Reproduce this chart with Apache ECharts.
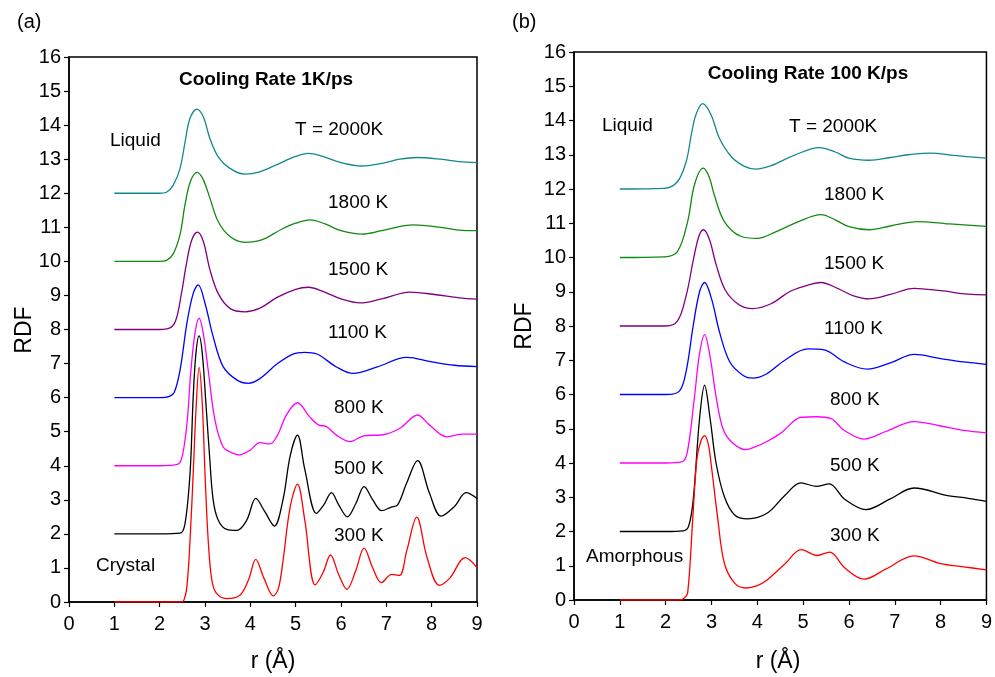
<!DOCTYPE html>
<html>
<head>
<meta charset="utf-8">
<script src="https://cdn.jsdelivr.net/npm/echarts@6/dist/echarts.min.js"></script>
<style>html,body{margin:0;padding:0;background:#fff;}#c{width:995px;height:677px;}</style>
</head>
<body>
<div id="c"></div>
<script>
// ---------- axis ticks ----------
const xTicks = [0,1,2,3,4,5,6,7,8,9];
const yTicks = [0,1,2,3,4,5,6,7,8,9,10,11,12,13,14,15,16];

// ---------- panel (a): cooling rate 1 K/ps, [r, RDF] ----------
const a2000 = [[1,12],[2.0,12],[2.15,12.03],[2.3,12.24],[2.45,12.73],[2.56,13.5],[2.67,14.2],[2.82,14.47],[2.96,14.25],[3.11,13.6],[3.29,13.07],[3.55,12.73],[3.88,12.56],[4.21,12.63],[4.6,12.85],[5.0,13.08],[5.28,13.17],[5.6,13.08],[6.0,12.9],[6.46,12.8],[6.9,12.88],[7.3,13.0],[7.67,13.05],[8.2,13.0],[8.6,12.93],[9,12.9]];
const a1800 = [[1,10],[2.0,10],[2.15,10.03],[2.3,10.22],[2.45,10.79],[2.56,11.67],[2.68,12.35],[2.83,12.61],[2.96,12.4],[3.11,11.85],[3.29,11.17],[3.55,10.73],[3.88,10.56],[4.25,10.63],[4.7,10.95],[5.0,11.12],[5.32,11.22],[5.65,11.1],[6.0,10.9],[6.46,10.8],[6.9,10.9],[7.6,11.07],[8.2,11.0],[8.6,10.92],[9,10.9]];
const a1500 = [[1,8],[2.0,8],[2.2,8.03],[2.35,8.25],[2.48,9.05],[2.58,9.85],[2.7,10.6],[2.83,10.86],[2.96,10.6],[3.11,9.75],[3.29,9.06],[3.55,8.62],[3.88,8.52],[4.2,8.62],[4.6,8.95],[5.0,9.18],[5.28,9.24],[5.6,9.12],[6.0,8.9],[6.42,8.78],[6.9,8.9],[7.52,9.10],[8.1,9.02],[8.6,8.93],[9,8.89]];
const a1100 = [[1,6],[2.0,6],[2.2,6.03],[2.32,6.15],[2.45,6.81],[2.6,8.18],[2.74,9.06],[2.85,9.31],[3.0,8.77],[3.18,7.79],[3.4,6.91],[3.7,6.52],[3.95,6.42],[4.2,6.55],[4.6,7.0],[4.94,7.28],[5.2,7.33],[5.47,7.28],[5.9,6.9],[6.27,6.71],[6.8,6.9],[7.45,7.18],[8.0,7.05],[8.5,6.95],[9,6.91]];
const a800 = [[1,4],[2.0,4],[2.37,4.03],[2.47,4.15],[2.56,4.76],[2.62,5.5],[2.69,6.81],[2.78,7.9],[2.87,8.33],[2.96,7.9],[3.07,6.81],[3.22,5.34],[3.4,4.55],[3.55,4.41],[3.75,4.32],[3.99,4.45],[4.21,4.68],[4.43,4.64],[4.6,4.9],[4.8,5.5],[5.04,5.85],[5.3,5.45],[5.5,5.2],[5.68,5.15],[5.9,4.9],[6.2,4.71],[6.5,4.88],[6.93,4.91],[7.3,5.1],[7.69,5.49],[7.95,5.2],[8.33,4.85],[8.7,4.93],[9,4.93]];
const a500 = [[1,2],[2.0,2],[2.45,2.02],[2.56,2.31],[2.67,3.78],[2.74,6.03],[2.8,7.3],[2.87,7.81],[2.94,7.3],[3.02,5.83],[3.1,4.3],[3.18,3.0],[3.29,2.41],[3.48,2.13],[3.7,2.1],[3.92,2.4],[4.12,3.04],[4.32,2.65],[4.53,2.23],[4.72,3.0],[4.88,4.3],[5.04,4.9],[5.2,3.9],[5.46,2.6],[5.62,2.85],[5.79,3.21],[5.95,2.85],[6.14,2.5],[6.33,2.9],[6.51,3.39],[6.7,3.0],[6.9,2.68],[7.1,2.78],[7.25,2.85],[7.45,3.5],[7.69,4.15],[7.95,3.2],[8.21,2.52],[8.5,2.8],[8.76,3.21],[9,3.04]];
const a300 = [[1,0],[2.45,0],[2.52,0.02],[2.6,0.45],[2.67,1.82],[2.74,3.78],[2.8,5.6],[2.87,6.89],[2.94,5.83],[3.0,3.78],[3.07,1.82],[3.15,0.65],[3.25,0.26],[3.47,0.1],[3.77,0.2],[3.96,0.65],[4.12,1.25],[4.3,0.7],[4.51,0.18],[4.62,0.4],[4.72,1.2],[4.88,2.8],[5.04,3.46],[5.2,2.41],[5.43,0.5],[5.6,0.85],[5.77,1.38],[5.95,0.8],[6.13,0.37],[6.32,0.9],[6.51,1.58],[6.7,1.0],[6.89,0.57],[7.12,0.81],[7.29,0.78],[7.45,1.5],[7.67,2.49],[7.9,1.3],[8.17,0.49],[8.4,0.7],[8.74,1.3],[9,1.01]];

// ---------- panel (b): cooling rate 100 K/ps, [r, RDF] ----------
const b2000 = [[1,12],[1.97,12.02],[2.26,12.22],[2.45,12.81],[2.56,13.59],[2.66,14.17],[2.81,14.49],[2.99,14.17],[3.17,13.49],[3.43,12.95],[3.72,12.66],[3.97,12.58],[4.3,12.68],[4.8,12.98],[5.35,13.21],[5.7,13.08],[6.0,12.9],[6.44,12.84],[6.9,12.92],[7.3,13.0],[7.78,13.05],[8.3,12.98],[9,12.9]];
const b1800 = [[1,10],[1.97,10.02],[2.26,10.18],[2.48,11.05],[2.63,12.13],[2.82,12.61],[2.95,12.35],[3.06,11.83],[3.28,11.05],[3.64,10.62],[4.0,10.56],[4.4,10.75],[4.9,11.05],[5.39,11.25],[5.7,11.1],[6.0,10.9],[6.44,10.81],[6.9,10.92],[7.49,11.05],[8.2,10.98],[9,10.91]];
const b1500 = [[1,8],[2.0,8.0],[2.26,8.15],[2.45,8.9],[2.6,9.9],[2.72,10.6],[2.82,10.81],[2.95,10.55],[3.1,9.8],[3.3,9.05],[3.6,8.62],[3.9,8.51],[4.3,8.65],[4.7,9.0],[5.0,9.15],[5.39,9.27],[5.75,9.1],[6.1,8.88],[6.44,8.79],[6.9,8.92],[7.42,9.10],[8.0,9.03],[8.6,8.93],[9,8.91]];
const b1100 = [[1,6],[2.0,6.0],[2.3,6.1],[2.45,6.7],[2.6,8.0],[2.74,9.0],[2.85,9.27],[3.0,8.8],[3.18,7.8],[3.4,6.95],[3.7,6.55],[3.9,6.48],[4.2,6.6],[4.6,7.0],[5.1,7.33],[5.46,7.3],[5.9,6.95],[6.4,6.74],[6.9,6.92],[7.42,7.17],[8.0,7.05],[8.5,6.95],[9,6.88]];
const b800 = [[1,4],[2.0,4.0],[2.35,4.03],[2.47,4.3],[2.63,5.94],[2.74,7.2],[2.85,7.75],[2.97,7.1],[3.1,5.94],[3.25,5.0],[3.45,4.6],[3.75,4.39],[3.95,4.47],[4.2,4.62],[4.52,4.88],[4.95,5.33],[5.3,5.35],[5.6,5.3],[5.9,4.95],[6.33,4.70],[6.8,4.92],[7.42,5.21],[8.0,5.08],[8.5,4.95],[9,4.88]];
const b500 = [[1,2],[2.0,2.0],[2.38,2.02],[2.5,2.15],[2.6,2.9],[2.74,5.3],[2.85,6.27],[2.97,5.3],[3.1,4.0],[3.28,3.02],[3.5,2.49],[3.79,2.37],[4.22,2.54],[4.6,3.05],[4.95,3.42],[5.28,3.32],[5.57,3.39],[5.9,2.95],[6.37,2.64],[6.9,2.95],[7.42,3.27],[8.15,3.05],[8.6,2.97],[9,2.88]];
const b300 = [[1,0],[2.3,0],[2.4,0.05],[2.48,0.2],[2.59,2.34],[2.68,4.1],[2.77,4.65],[2.85,4.8],[2.93,4.55],[2.99,4.0],[3.14,2.34],[3.28,1.08],[3.5,0.5],[3.75,0.35],[4.0,0.42],[4.22,0.59],[4.6,1.05],[4.96,1.47],[5.3,1.30],[5.58,1.40],[5.9,0.95],[6.33,0.61],[6.8,0.9],[7.42,1.29],[8.0,1.06],[8.5,0.97],[9,0.88]];

const colors = ['#13888b','#118a11','#800080','#0000ff','#ff00ff','#000000','#ff0000'];
const panelA = [a2000,a1800,a1500,a1100,a800,a500,a300];
const panelB = [b2000,b1800,b1500,b1100,b800,b500,b300];

const FONT = '"Liberation Sans", Arial, Helvetica, sans-serif';

function xAx(gi){
  return {type:'value', gridIndex:gi, min:0, max:9, interval:1,
    axisLine:{show:true, lineStyle:{color:'#000', width:1.5}},
    axisTick:{show:true, inside:false, length:5, lineStyle:{color:'#000', width:1.2}},
    axisLabel:{color:'#000', fontSize:20, fontFamily:FONT, margin:12},
    splitLine:{show:false}};
}
function yAx(gi){
  return {type:'value', gridIndex:gi, min:0, max:16, interval:1,
    axisLine:{show:true, lineStyle:{color:'#000', width:1.5}},
    axisTick:{show:true, inside:false, length:5, lineStyle:{color:'#000', width:1.2}},
    axisLabel:{color:'#000', fontSize:20, fontFamily:FONT, margin:8},
    splitLine:{show:false}};
}

const series = [];
panelA.forEach((d,i)=>series.push({type:'line', xAxisIndex:0, yAxisIndex:0, data:d, showSymbol:false, smooth:0.35, lineStyle:{color:colors[i], width:1.3}, itemStyle:{color:colors[i]}}));
panelB.forEach((d,i)=>series.push({type:'line', xAxisIndex:1, yAxisIndex:1, data:d, showSymbol:false, smooth:0.35, lineStyle:{color:colors[i], width:1.3}, itemStyle:{color:colors[i]}}));

function txt(x,y,s,opt){
  opt = opt||{};
  return {type:'text', x:x, y:y, rotation:opt.rot||0, style:{text:s, fontSize:opt.size||19, fontWeight:opt.bold?'bold':'normal', fontFamily:FONT, fill:'#000', align:opt.align||'left', verticalAlign:'middle'}};
}

const labelsA = [
  ['Cooling Rate 1K/ps',266,80,{bold:true,align:'center'}],
  ['Liquid',110,141],['T = 2000K',295,130],['1800 K',328,203],['1500 K',328,270],['1100 K',328,333],
  ['800 K',334,408],['500 K',334,469],['300 K',334,536],['Crystal',96,566]
];
const labelsB = [
  ['Cooling Rate 100 K/ps',808,74,{bold:true,align:'center'}],
  ['Liquid',602,126],['T = 2000K',789,127],['1800 K',824,195],['1500 K',824,264],['1100 K',824,329],
  ['800 K',830,400],['500 K',830,466],['300 K',830,536],['Amorphous',586,557]
];
const graphics = [];
labelsA.concat(labelsB).forEach(l=>graphics.push(txt(l[1],l[2],l[0],l[3])));
graphics.push(txt(17,22,'(a)',{size:20}));
graphics.push(txt(512,22,'(b)',{size:20}));
graphics.push(txt(273,662,'r (Å)',{size:23,align:'center'}));
graphics.push(txt(778,662,'r (Å)',{size:23,align:'center'}));
graphics.push(txt(25,330,'RDF',{size:23,align:'center',rot:Math.PI/2}));
graphics.push(txt(525,326,'RDF',{size:23,align:'center',rot:Math.PI/2}));

const chart = echarts.init(document.getElementById('c'), null, {renderer:'canvas'});
chart.setOption({
  backgroundColor:'#fff',
  animation:false,
  grid:[
    {left:69, right:518, top:57, bottom:75, show:true, borderColor:'#000', borderWidth:1.5, containLabel:false},
    {left:574, right:7, top:52, bottom:77, show:true, borderColor:'#000', borderWidth:1.5, containLabel:false}
  ],
  xAxis:[xAx(0), xAx(1)],
  yAxis:[yAx(0), yAx(1)],
  series:series,
  graphic:graphics
});
</script>
</body>
</html>
